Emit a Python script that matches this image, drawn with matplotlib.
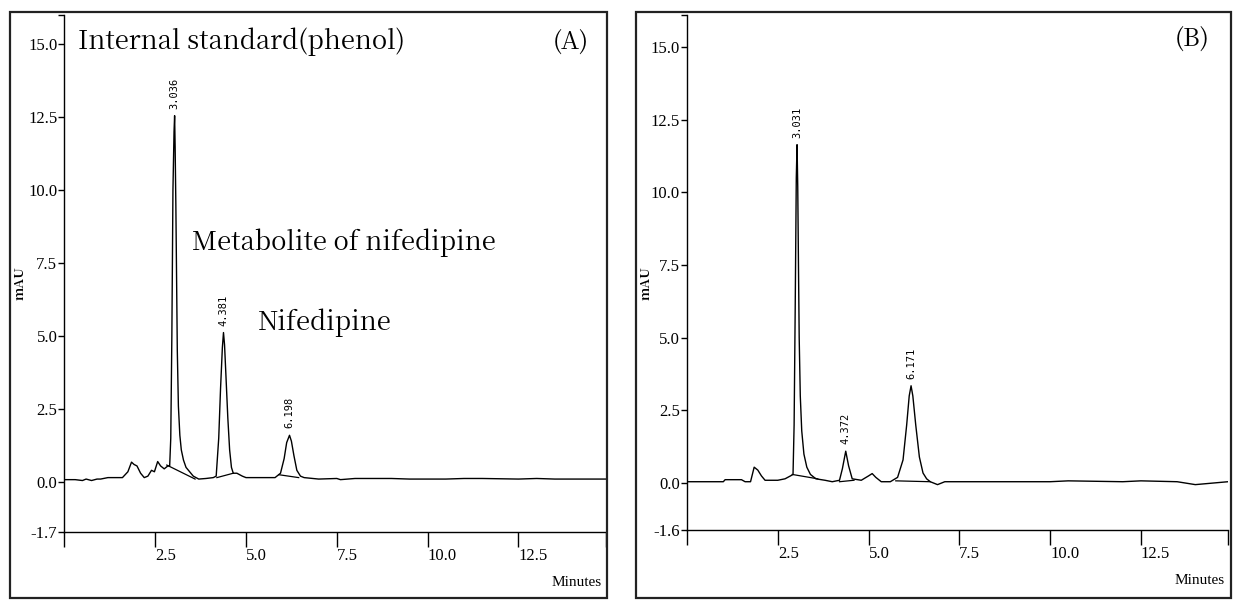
import matplotlib

matplotlib.use("Agg")
import matplotlib.pyplot as plt
from matplotlib.patches import Rectangle

# chromatogram (A): retention time (min) vs absorbance (mAU)
time_a = [0.0, 0.3, 0.5, 0.6, 0.75, 0.9, 1.0, 1.2, 1.5, 1.6, 1.75, 1.85, 1.92, 2.0, 2.1, 2.2,
          2.3, 2.4, 2.48, 2.57, 2.65, 2.75, 2.85, 2.9, 2.93, 2.96, 2.99, 3.02, 3.036, 3.05, 3.07,
          3.09, 3.11, 3.14, 3.18, 3.22, 3.28, 3.35, 3.45, 3.55, 3.7, 3.9, 4.1, 4.18, 4.25, 4.3,
          4.35, 4.381, 4.41, 4.45, 4.5, 4.55, 4.6, 4.65, 4.75, 4.9, 5.0, 5.5, 5.8, 5.95, 6.05,
          6.12, 6.198, 6.25, 6.32, 6.4, 6.5, 6.6, 7.0, 7.5, 7.6, 8.0, 9.0, 9.5, 10.5, 11.0,
          11.5, 12.5, 13.0, 13.5, 14.9]
mau_a = [0.08, 0.08, 0.05, 0.1, 0.05, 0.1, 0.1, 0.15, 0.15, 0.15, 0.35, 0.68, 0.6, 0.55, 0.3, 0.15,
         0.2, 0.4, 0.35, 0.7, 0.55, 0.45, 0.55, 0.55, 1.5, 5.0, 10.0, 12.0, 12.55, 11.5, 9.5,
         7.0, 4.5, 2.6, 1.6, 1.1, 0.75, 0.5, 0.35, 0.2, 0.1, 0.12, 0.15, 0.2, 1.5, 3.2,
         4.6, 5.12, 4.7, 3.6, 2.2, 1.1, 0.5, 0.3, 0.3, 0.2, 0.15, 0.15, 0.15, 0.3, 0.8,
         1.35, 1.6, 1.4, 0.9, 0.4, 0.2, 0.15, 0.1, 0.12, 0.08, 0.12, 0.12, 0.1, 0.1, 0.12,
         0.12, 0.1, 0.12, 0.1, 0.1]
base_a = [([2.82, 3.6], [0.58, 0.1]), ([4.2, 4.65], [0.15, 0.3]), ([5.9, 6.45], [0.25, 0.15])]
peaks_a = [3.036, 4.381, 6.198]
peak_h_a = [12.55, 5.12, 1.6]

# chromatogram (B)
time_b = [0.0, 0.5, 1.0, 1.05, 1.5, 1.6, 1.75, 1.85, 1.95, 2.05, 2.15, 2.5, 2.7, 2.85, 2.92,
          2.95, 2.98, 3.01, 3.031, 3.05, 3.07, 3.09, 3.12, 3.16, 3.22, 3.3, 3.4, 3.55, 3.8,
          4.0, 4.2, 4.28, 4.372, 4.45, 4.55, 4.8, 5.0, 5.1, 5.2, 5.35, 5.6, 5.8, 5.95, 6.05,
          6.12, 6.171, 6.22, 6.3, 6.4, 6.5, 6.6, 6.7, 6.9, 7.1, 7.5, 10.0, 10.5, 12.0, 12.5,
          13.5, 14.0, 14.9]
mau_b = [0.05, 0.05, 0.05, 0.12, 0.12, 0.05, 0.05, 0.55, 0.45, 0.25, 0.1, 0.1, 0.15, 0.25, 0.3,
         2.0, 6.0, 10.5, 11.64, 10.2, 7.5, 5.0, 3.0, 1.8, 1.0, 0.55, 0.3, 0.15, 0.1,
         0.05, 0.1, 0.5, 1.1, 0.6, 0.15, 0.1, 0.25, 0.33, 0.2, 0.05, 0.05, 0.2, 0.8, 2.0,
         3.0, 3.35, 3.0, 2.0, 0.9, 0.35, 0.15, 0.05, -0.05, 0.05, 0.05, 0.05, 0.08, 0.05, 0.08,
         0.05, -0.05, 0.05]
base_b = [([2.9, 3.6], [0.3, 0.15]), ([4.2, 4.6], [0.05, 0.1]), ([5.75, 6.7], [0.08, 0.05])]
peaks_b = [3.031, 4.372, 6.171]
peak_h_b = [11.64, 1.1, 3.35]

yticks_a = [-1.7, 0.0, 2.5, 5.0, 7.5, 10.0, 12.5, 15.0]
yticks_b = [-1.6, 0.0, 2.5, 5.0, 7.5, 10.0, 12.5, 15.0]
xticks = [2.5, 5.0, 7.5, 10.0, 12.5]

NARROW = ["Liberation Serif", "DejaVu Serif"]
SERIF = ["Noto Serif CJK KR", "DejaVu Serif"]

fig = plt.figure(figsize=(12.5, 6), dpi=100)
W, H = 1250, 600


def frame(x0, y0, x1, y1):
    fig.patches.append(Rectangle((x0 / W, 1 - y1 / H), (x1 - x0) / W, (y1 - y0) / H,
                                 transform=fig.transFigure, fill=False, lw=1.6, ec="#222222"))


def panel(rect, t, v, bases, peaks, heights, yticks, ymax):
    ax = fig.add_axes(rect)
    ax.plot(t, v, color="black", lw=1.0)
    for bx, by in bases:
        ax.plot(bx, by, color="black", lw=0.9)
    xmax = 14.9
    ax.set_xlim(0, xmax)
    ax.set_ylim(yticks[0], ymax)
    for s in ["top", "right"]:
        ax.spines[s].set_visible(False)
    for s in ["left", "bottom"]:
        ax.spines[s].set_linewidth(1.0)
    ax.set_xticks([0] + xticks + [xmax])
    ax.set_xticklabels([""] + [f"{x:.1f}" for x in xticks] + [""])
    ax.set_yticks(yticks + [ymax])
    ax.set_yticklabels([f"{y:.1f}" for y in yticks] + [""])
    ax.tick_params(axis="x", direction="out", length=11, width=1.0, pad=1, labelsize=12)
    ax.tick_params(axis="y", direction="out", length=4, width=1.0, pad=1, labelsize=12)
    for lab in ax.get_xticklabels():
        lab.set_horizontalalignment("left")
        lab.set_family(NARROW)
    for lab in ax.get_yticklabels():
        lab.set_family(NARROW)
    for p, h in zip(peaks, heights):
        ax.annotate(f"{p:.3f}", (p, h), xytext=(0, 5), textcoords="offset points",
                    rotation=90, ha="center", va="bottom", fontsize=7.5,
                    family="DejaVu Sans Mono")
    return ax


frame(10, 12, 607, 598)
frame(636, 12, 1231, 598)

ax_a = panel([64.3 / W, 1 - 531.6 / H, (605.7 - 64.3) / W, (531.6 - 15) / H],
             time_a, mau_a, base_a, peaks_a, peak_h_a, yticks_a, 16.0)
ax_b = panel([687 / W, 1 - 529.7 / H, (1228 - 687) / W, (529.7 - 15) / H],
             time_b, mau_b, base_b, peaks_b, peak_h_b, yticks_b, 16.1)

ax_a.text(0.38, 15.1, "Internal standard(phenol)", fontsize=18.5, family=SERIF, va="center")
ax_a.text(13.93, 15.1, "(A)", fontsize=18, family=SERIF, va="center", ha="center")
ax_a.text(3.52, 8.2, "Metabolite of nifedipine", fontsize=18.5, family=SERIF, va="center")
ax_a.text(5.33, 5.45, "Nifedipine", fontsize=18.5, family=SERIF, va="center")
ax_b.text(13.9, 15.3, "(B)", fontsize=18, family=SERIF, va="center", ha="center")

fig.text(20 / W, 1 - 283 / H, "mAU", rotation=90, fontsize=9.5, family=SERIF,
         fontweight="bold", ha="center", va="center")
fig.text(646 / W, 1 - 283 / H, "mAU", rotation=90, fontsize=9.5, family=SERIF,
         fontweight="bold", ha="center", va="center")
fig.text(602 / W, 1 - 582 / H, "Minutes", fontsize=11, family=NARROW, ha="right", va="center")
fig.text(1225 / W, 1 - 580 / H, "Minutes", fontsize=11, family=NARROW, ha="right", va="center")

fig.savefig("out.png", dpi=100, facecolor="white")
